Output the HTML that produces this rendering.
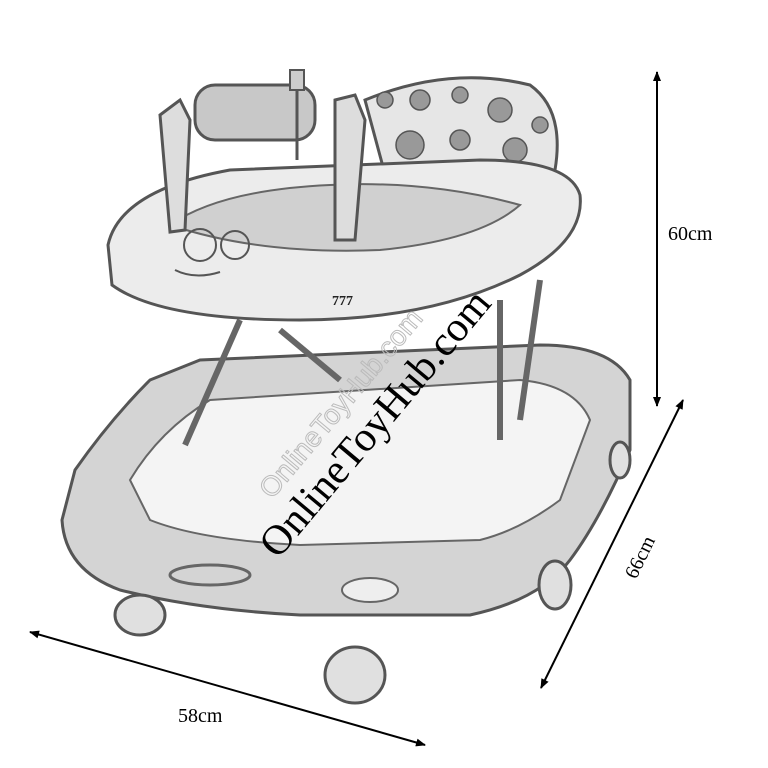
<!DOCTYPE html>
<html><head><meta charset="utf-8"><style>html,body{margin:0;padding:0;background:#fff}svg{display:block}</style></head>
<body>
<svg width="768" height="768" viewBox="0 0 768 768" xmlns="http://www.w3.org/2000/svg">
<defs>
<marker id="ah" markerWidth="10" markerHeight="10" refX="9" refY="5" orient="auto-start-reverse" markerUnits="userSpaceOnUse"><path d="M0,1 L10,5 L0,9 z" fill="#000"/></marker>
</defs>
<rect width="768" height="768" fill="#fff"/>
<!-- base -->
<path d="M75,470 Q110,420 150,380 L200,360 L540,345 Q610,345 630,380 L630,450 Q600,520 570,560 Q540,600 470,615 L300,615 Q200,610 120,590 Q65,570 62,520 Z" fill="#d4d4d4" stroke="#555" stroke-width="3"/>
<path d="M130,480 Q160,430 210,400 L520,380 Q575,385 590,420 L560,500 Q520,530 480,540 L300,545 Q200,540 150,520 Z" fill="#f4f4f4" stroke="#666" stroke-width="2"/>
<ellipse cx="210" cy="575" rx="40" ry="10" fill="none" stroke="#666" stroke-width="3"/>
<ellipse cx="370" cy="590" rx="28" ry="12" fill="#eee" stroke="#666" stroke-width="2"/>
<!-- wheels -->
<ellipse cx="355" cy="675" rx="30" ry="28" fill="#e0e0e0" stroke="#555" stroke-width="3"/>
<ellipse cx="140" cy="615" rx="25" ry="20" fill="#e0e0e0" stroke="#555" stroke-width="3"/>
<ellipse cx="555" cy="585" rx="16" ry="24" fill="#e0e0e0" stroke="#555" stroke-width="3"/>
<ellipse cx="620" cy="460" rx="10" ry="18" fill="#e0e0e0" stroke="#555" stroke-width="3"/>
<!-- legs -->
<g stroke="#666" stroke-width="6" fill="none">
<line x1="240" y1="320" x2="185" y2="445"/>
<line x1="500" y1="300" x2="500" y2="440"/>
<line x1="540" y1="280" x2="520" y2="420"/>
<line x1="280" y1="330" x2="340" y2="380"/>
</g>
<!-- seat back -->
<path d="M365,100 Q450,65 530,85 Q565,110 555,170 Q545,215 520,230 L400,230 Z" fill="#e6e6e6" stroke="#555" stroke-width="3"/>
<g fill="#999" stroke="#555" stroke-width="1.5">
<circle cx="420" cy="100" r="10"/><circle cx="460" cy="95" r="8"/><circle cx="500" cy="110" r="12"/>
<circle cx="410" cy="145" r="14"/><circle cx="460" cy="140" r="10"/><circle cx="515" cy="150" r="12"/>
<circle cx="440" cy="180" r="9"/><circle cx="400" cy="195" r="12"/><circle cx="495" cy="190" r="10"/>
<circle cx="385" cy="100" r="8"/><circle cx="540" cy="125" r="8"/>
</g>
<!-- tray -->
<path d="M108,245 Q120,190 230,170 L480,160 Q570,160 580,195 Q585,240 520,275 Q430,320 300,320 Q160,320 112,285 Z" fill="#ececec" stroke="#555" stroke-width="3"/>
<path d="M170,225 Q220,190 330,185 Q430,180 520,205 Q480,240 380,250 Q260,255 170,225 Z" fill="#d0d0d0" stroke="#666" stroke-width="2"/>
<circle cx="200" cy="245" r="16" fill="none" stroke="#555" stroke-width="2"/>
<circle cx="235" cy="245" r="14" fill="none" stroke="#555" stroke-width="2"/>
<path d="M175,270 Q195,280 220,272" fill="none" stroke="#555" stroke-width="2"/>
<text x="332" y="305" font-family="Liberation Serif, serif" font-weight="bold" font-size="14" fill="#222">777</text>
<!-- handles & toy -->
<path d="M160,115 L180,100 L190,120 L185,230 L170,232 Z" fill="#ddd" stroke="#555" stroke-width="3"/>
<path d="M335,100 L355,95 L365,120 L355,240 L335,240 Z" fill="#ddd" stroke="#555" stroke-width="3"/>
<rect x="195" y="85" width="120" height="55" rx="20" fill="#c8c8c8" stroke="#555" stroke-width="3"/>
<rect x="290" y="70" width="14" height="20" fill="#ccc" stroke="#555" stroke-width="2"/>
<line x1="297" y1="90" x2="297" y2="160" stroke="#555" stroke-width="3"/>
<!-- dimensions -->
<line x1="657" y1="72" x2="657" y2="406" stroke="#000" stroke-width="2" marker-start="url(#ah)" marker-end="url(#ah)"/>
<text x="668" y="240" font-family="Liberation Serif, serif" font-size="20" fill="#000">60cm</text>
<line x1="683" y1="400" x2="541" y2="688" stroke="#000" stroke-width="2" marker-start="url(#ah)" marker-end="url(#ah)"/>
<text transform="translate(636,580) rotate(-64)" font-family="Liberation Serif, serif" font-size="20" fill="#000">66cm</text>
<line x1="30" y1="632" x2="425" y2="745" stroke="#000" stroke-width="2" marker-start="url(#ah)" marker-end="url(#ah)"/>
<text x="178" y="722" font-family="Liberation Serif, serif" font-size="20" fill="#000">58cm</text>
<!-- watermarks -->
<text transform="translate(272,500) rotate(-50)" font-family="Liberation Sans, sans-serif" font-size="28" fill="none" stroke="#bbb" stroke-width="1">OnlineToyHub.com</text>
<text transform="translate(278,560) rotate(-50)" font-family="Liberation Serif, serif" font-size="42" fill="#000">OnlineToyHub.com</text>
</svg>
</body></html>
